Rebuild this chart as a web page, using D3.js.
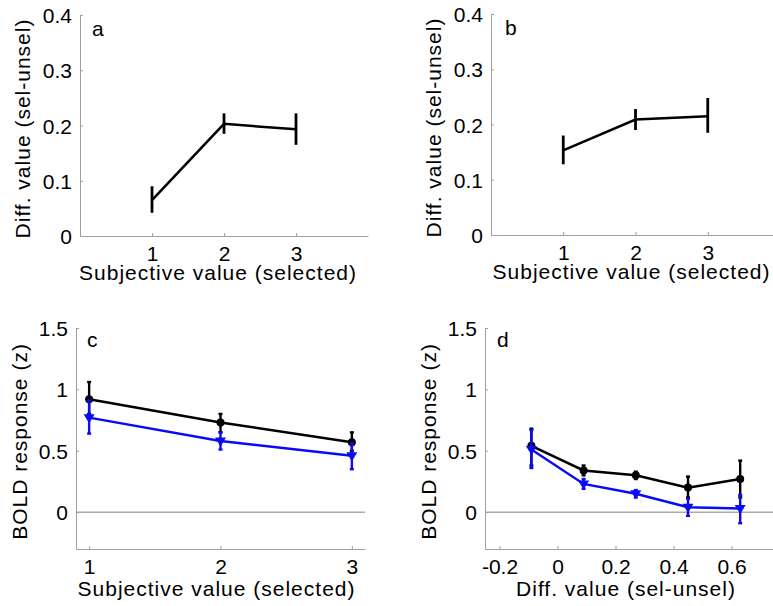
<!DOCTYPE html>
<html>
<head>
<meta charset="utf-8">
<script src="https://cdn.jsdelivr.net/npm/d3@7"></script>
<style>
  body { margin: 0; background: #fff; }
  svg { display: block; }
  text { font-family: Arial, "Liberation Sans", sans-serif; fill: #000; }
</style>
</head>
<body>
<div id="chart"></div>
<script>
// panel a / b : diff value vs subjective value
var svX = [1, 2, 3];
var diffA = [0.065, 0.203, 0.193];
var diffALo = [0.042, 0.185, 0.165];
var diffAHi = [0.090, 0.222, 0.222];
var diffB = [0.153, 0.209, 0.215];
var diffBLo = [0.128, 0.190, 0.185];
var diffBHi = [0.180, 0.228, 0.248];

// panel c : BOLD vs subjective value
var boldCBlack = [0.92, 0.73, 0.57];
var boldCBlackLo = [0.80, 0.65, 0.50];
var boldCBlackHi = [1.06, 0.80, 0.65];
var boldCBlue = [0.77, 0.58, 0.46];
var boldCBlueLo = [0.64, 0.51, 0.35];
var boldCBlueHi = [0.91, 0.65, 0.56];

// panel d : BOLD vs diff value
var dvX = [-0.09, 0.09, 0.27, 0.45, 0.63];
var boldDBlack = [0.54, 0.34, 0.30, 0.20, 0.27];
var boldDBlackLo = [0.38, 0.30, 0.27, 0.12, 0.12];
var boldDBlackHi = [0.68, 0.38, 0.33, 0.29, 0.42];
var boldDBlue = [0.51, 0.23, 0.15, 0.04, 0.03];
var boldDBlueLo = [0.36, 0.19, 0.12, -0.03, -0.09];
var boldDBlueHi = [0.67, 0.27, 0.18, 0.11, 0.14];

var ticksAB_y = [0, 0.1, 0.2, 0.3, 0.4];
var ticksAB_x = [1, 2, 3];
var ticksCD_y = [0, 0.5, 1, 1.5];
var ticksC_x = [1, 2, 3];
var ticksD_x = [-0.2, 0, 0.2, 0.4, 0.6];

var W = 773, H = 606;
var axisColor = "#a0a0a0";
var blue = "#0a0af5";

var svg = d3.select("#chart").append("svg")
  .attr("width", W).attr("height", H);

function series(xs, ys, lo, hi) {
  return xs.map(function(x, i) { return {x: x, y: ys[i], lo: lo[i], hi: hi[i]}; });
}

function makePanel(p) {
  var x = d3.scaleLinear().domain(p.xDomain).range([p.left, p.right]);
  var y = d3.scaleLinear().domain(p.yDomain).range([p.bottom, p.top]);
  var g = svg.append("g");

  // zero line
  if (p.zeroLine) {
    g.append("line")
      .attr("x1", p.left).attr("x2", Math.min(p.right, W))
      .attr("y1", y(0)).attr("y2", y(0))
      .attr("stroke", "#808080").attr("stroke-width", 1);
  }

  // axes
  var xAxis = g.append("g")
    .attr("transform", "translate(0," + p.bottom + ")")
    .call(d3.axisBottom(x).tickValues(p.xTicks).tickSizeInner(-3).tickSizeOuter(0)
      .tickFormat(p.xFormat || d3.format("")));
  var yAxis = g.append("g")
    .attr("transform", "translate(" + p.left + ",0)")
    .call(d3.axisLeft(y).tickValues(p.yTicks).tickSizeInner(-3).tickSizeOuter(0)
      .tickFormat(p.yFormat || d3.format("")));
  [xAxis, yAxis].forEach(function(a) {
    a.attr("font-size", 21).attr("font-family", "Arial, 'Liberation Sans', sans-serif");
    a.select(".domain").attr("stroke", axisColor);
    a.selectAll(".tick line").attr("stroke", axisColor);
    a.selectAll("text").attr("fill", "#000");
  });
  xAxis.selectAll("text").attr("dy", null).attr("y", 25);
  yAxis.selectAll("text").attr("dy", "0.36em").attr("x", -8);

  // labels
  g.append("text")
    .attr("x", (p.left + p.right) / 2 + (p.xLabelShift || 0))
    .attr("y", p.xLabelY)
    .attr("text-anchor", "middle")
    .style("font-size", "21px")
    .style("letter-spacing", "1px")
    .text(p.xLabel);
  g.append("text")
    .attr("transform", "translate(" + p.yLabelX + "," + ((p.top + p.bottom) / 2 + 3) + ") rotate(-90)")
    .attr("text-anchor", "middle")
    .style("font-size", "21px")
    .style("letter-spacing", "1px")
    .text(p.yLabel);
  g.append("text")
    .attr("x", p.left + p.letterDx).attr("y", p.top + p.letterDy)
    .style("font-size", "21px")
    .text(p.letter);

  // data
  var line = d3.line().x(function(d) { return x(d.x); }).y(function(d) { return y(d.y); });
  p.series.forEach(function(s) {
    g.append("path").datum(s.data)
      .attr("d", line)
      .attr("fill", "none")
      .attr("stroke", s.color)
      .attr("stroke-width", 2.5);
    var eb = g.selectAll(null).data(s.data).enter().append("g");
    eb.append("line")
      .attr("x1", function(d) { return x(d.x); }).attr("x2", function(d) { return x(d.x); })
      .attr("y1", function(d) { return y(d.lo); }).attr("y2", function(d) { return y(d.hi); })
      .attr("stroke", s.color).attr("stroke-width", s.ebWidth || 2.4);
    if (s.cap) {
      ["lo", "hi"].forEach(function(k) {
        eb.append("line")
          .attr("x1", function(d) { return x(d.x) - s.cap; })
          .attr("x2", function(d) { return x(d.x) + s.cap; })
          .attr("y1", function(d) { return y(d[k]); })
          .attr("y2", function(d) { return y(d[k]); })
          .attr("stroke", s.color).attr("stroke-width", 2.4);
      });
    }
    if (s.marker === "circle") {
      eb.append("circle")
        .attr("cx", function(d) { return x(d.x); })
        .attr("cy", function(d) { return y(d.y); })
        .attr("r", 4).attr("fill", s.color);
    } else if (s.marker === "tri") {
      eb.append("path")
        .attr("transform", function(d) { return "translate(" + x(d.x) + "," + y(d.y) + ")"; })
        .attr("d", "M-5.5,-3.5L5.5,-3.5L0,5.5Z")
        .attr("fill", s.color);
    }
  });
}

makePanel({
  letter: "a", letterDx: 12, letterDy: 21,
  left: 80, right: 368, top: 15, bottom: 236,
  xDomain: [0, 4], yDomain: [0, 0.4],
  xTicks: ticksAB_x, yTicks: ticksAB_y,
  xLabel: "Subjective value (selected)", xLabelY: 280, xLabelShift: -6,
  yLabel: "Diff. value (sel-unsel)", yLabelX: 30,
  series: [{color: "#000", data: series(svX, diffA, diffALo, diffAHi), ebWidth: 2.8}]
});

makePanel({
  letter: "b", letterDx: 14, letterDy: 21,
  left: 491, right: 780, top: 14, bottom: 235,
  xDomain: [0, 4], yDomain: [0, 0.4],
  xTicks: ticksAB_x, yTicks: ticksAB_y,
  xLabel: "Subjective value (selected)", xLabelY: 279, xLabelShift: -4,
  yLabel: "Diff. value (sel-unsel)", yLabelX: 441,
  series: [{color: "#000", data: series(svX, diffB, diffBLo, diffBHi), ebWidth: 2.8}]
});

makePanel({
  letter: "c", letterDx: 11, letterDy: 19,
  left: 76, right: 365, top: 328, bottom: 549,
  xDomain: [0.9, 3.1], yDomain: [-0.3, 1.5],
  xTicks: ticksC_x, yTicks: ticksCD_y, zeroLine: true,
  xLabel: "Subjective value (selected)", xLabelY: 596, xLabelShift: -4,
  yLabel: "BOLD response (z)", yLabelX: 27,
  series: [
    {color: "#000", data: series(svX, boldCBlack, boldCBlackLo, boldCBlackHi), marker: "circle", cap: 2},
    {color: blue, data: series(svX, boldCBlue, boldCBlueLo, boldCBlueHi), marker: "tri", cap: 2}
  ]
});

makePanel({
  letter: "d", letterDx: 12, letterDy: 19,
  left: 485, right: 775, top: 328, bottom: 549,
  xDomain: [-0.25, 0.75], yDomain: [-0.3, 1.5],
  xTicks: ticksD_x, yTicks: ticksCD_y, zeroLine: true,
  xFormat: function(d) { return d === 0 ? "0" : d3.format(".1f")(d).replace("\u2212", "-"); },
  xLabel: "Diff. value (sel-unsel)", xLabelY: 596, xLabelShift: -4,
  yLabel: "BOLD response (z)", yLabelX: 436,
  series: [
    {color: "#000", data: series(dvX, boldDBlack, boldDBlackLo, boldDBlackHi), marker: "circle", cap: 2},
    {color: blue, data: series(dvX, boldDBlue, boldDBlueLo, boldDBlueHi), marker: "tri", cap: 2}
  ]
});
</script>
</body>
</html>
